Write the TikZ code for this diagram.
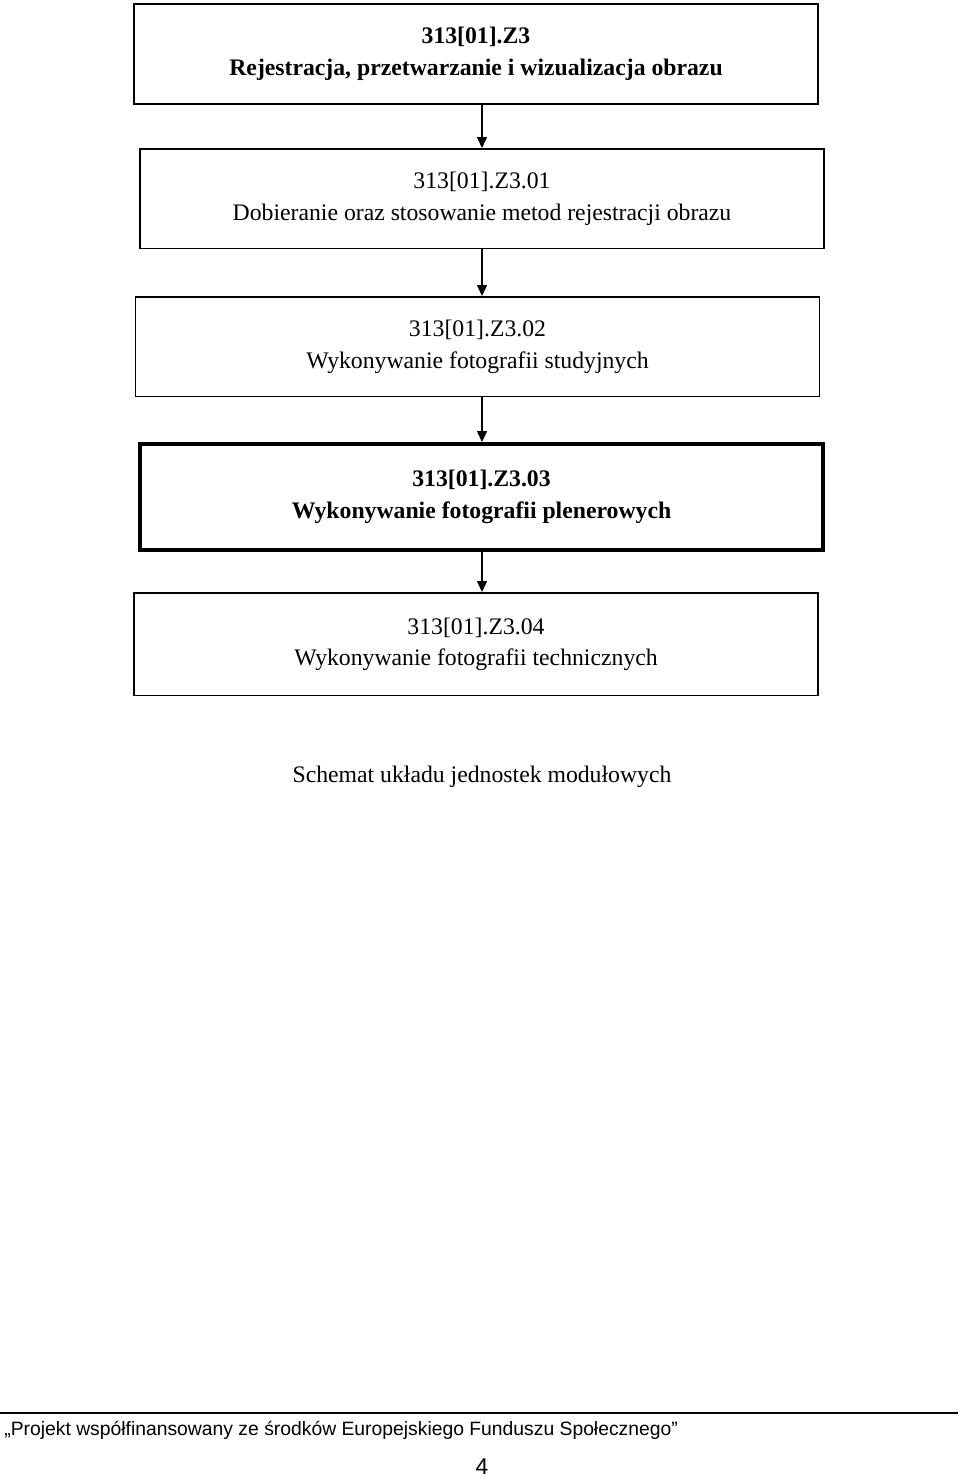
\documentclass[tikz,border=0pt]{standalone}
\usepackage{fontspec}
\setmainfont{Liberation Serif}
\newfontfamily\footfont{Liberation Sans}
\usetikzlibrary{positioning,arrows.meta}
\tikzset{
  unitbox/.style={draw, line width=0.03cm, minimum width=13.68cm, minimum height=2cm, align=center, inner sep=0pt, font=\fontsize{13.5}{18}\selectfont},
  mainbox/.style={unitbox, line width=0.08cm, font=\fontsize{13.5}{18}\selectfont\bfseries},
  link/.style={line width=0.03cm, -{Triangle[length=0.22cm,width=0.2cm]}}
}
\begin{document}
\begin{tikzpicture}[x=0.02cm, y=-0.02cm]
    \useasboundingbox (0,0) rectangle (960,1478);
    \node[unitbox, font=\fontsize{13.5}{18}\selectfont\bfseries] (z3) at (476,54) {313[01].Z3\\Rejestracja, przetwarzanie i wizualizacja obrazu};
    \node[unitbox, anchor=north] (z301) at (482,148) {313[01].Z3.01\\Dobieranie oraz stosowanie metod rejestracji obrazu};
    \node[unitbox, anchor=north] (z302) at (477.5,296) {313[01].Z3.02\\Wykonywanie fotografii studyjnych};
    \node[mainbox, anchor=north, minimum height=2.12cm] (z303) at (481.5,442) {313[01].Z3.03\\Wykonywanie fotografii plenerowych};
    \node[unitbox, anchor=north, minimum height=2.06cm] (z304) at (476,592) {313[01].Z3.04\\Wykonywanie fotografii technicznych};
    \foreach \a/\b in {z3/z301, z301/z302, z302/z303, z303/z304}
        \draw[link] (\a.south -| 482,0) -- (\b.north -| 482,0);
    \node[font=\fontsize{13.5}{18}\selectfont] (caption) at (482,777) {Schemat układu jednostek modułowych};
    % footer
    \draw[line width=0.04cm] (0,1413) -- (958,1413);
    \node[anchor=west, inner sep=0pt, font=\footfont\fontsize{11}{13}\selectfont] (foot) at (4,1430) {„Projekt współfinansowany ze środków Europejskiego Funduszu Społecznego”};
    \node[font=\footfont\fontsize{13}{15}\selectfont] (page) at (482,1467) {4};
\end{tikzpicture}
\end{document}
